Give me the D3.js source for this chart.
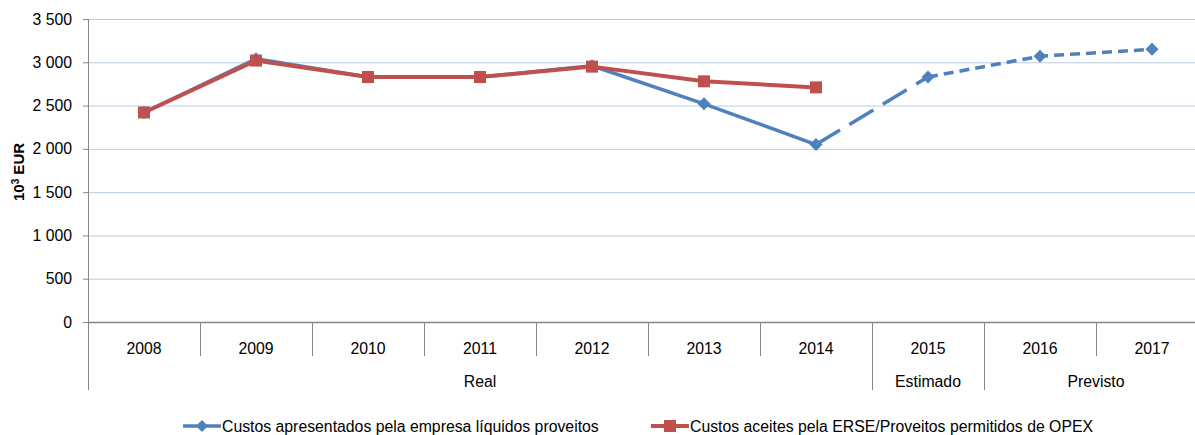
<!DOCTYPE html>
<html>
<head>
<meta charset="utf-8">
<script src="https://cdn.jsdelivr.net/npm/d3@7"></script>
<style>
  html, body { margin: 0; padding: 0; background: #fff; }
  svg { display: block; font-family: "Liberation Sans", Arial, sans-serif; }
</style>
</head>
<body>
<svg id="chart" width="1195" height="435"></svg>
<script>
// ---- Data ----
const years = ["2008","2009","2010","2011","2012","2013","2014","2015","2016","2017"];
const groupLabels = ["Real", "Estimado", "Previsto"];
const groupSizes = [7, 1, 2];
const apresentados = [2420, 3040, 2830, 2830, 2960, 2520, 2050, 2830, 3070, 3150];
const aceites = [2420, 3020, 2830, 2830, 2950, 2780, 2710];
const yTicks = [0, 500, 1000, 1500, 2000, 2500, 3000, 3500];
const seriesNames = ["Custos apresentados pela empresa líquidos proveitos",
                     "Custos aceites pela ERSE/Proveitos  permitidos de OPEX"];

(function () {
// ---- Layout ----
const svg = d3.select("#chart");
const pLeft = 88, pRight = 1208, pTop = 19, pBottom = 322;
const blue = "#4F81BD", red = "#C0504D", axisCol = "#868686", gridCol = "#B9CDE5";
const FONT = '"Liberation Sans", Arial, sans-serif';
const FS = 15.8;

const x = d3.scaleBand().domain(years).range([pLeft, pRight]).paddingInner(0).paddingOuter(0);
const y = d3.scaleLinear().domain([0, 3500]).range([pBottom, pTop]);
const cx = d => x(d) + x.bandwidth() / 2;

const fmt = d3.formatLocale({decimal: ",", thousands: " ", grouping: [3], currency: ["", ""]}).format(",d");

// Gridlines
svg.append("g").attr("transform", `translate(${pLeft},0)`)
  .call(d3.axisLeft(y).tickValues(yTicks.filter(v => v > 0)).tickSize(-(pRight - pLeft)).tickFormat(""))
  .call(g => g.select(".domain").remove())
  .call(g => g.selectAll("line").attr("stroke", gridCol).attr("stroke-width", 1));

// Y axis
svg.append("g").attr("transform", `translate(${pLeft},0)`)
  .call(d3.axisLeft(y).tickValues(yTicks).tickSize(5).tickPadding(11).tickFormat(fmt))
  .call(g => g.select(".domain").remove())
  .call(g => g.selectAll("line").attr("stroke", axisCol))
  .call(g => g.selectAll("text").attr("font-size", FS).attr("fill", "#000").attr("font-family", FONT));
svg.append("line").attr("x1", pLeft + 0.5).attr("x2", pLeft + 0.5).attr("y1", pTop).attr("y2", 390)
  .attr("stroke", axisCol);

// X axis line
svg.append("line").attr("x1", pLeft).attr("x2", pRight).attr("y1", pBottom + 0.5).attr("y2", pBottom + 0.5)
  .attr("stroke", axisCol).attr("stroke-width", 1.3);

// Year labels
svg.append("g").attr("transform", `translate(0,${pBottom})`)
  .call(d3.axisBottom(x).tickSize(0).tickPadding(21))
  .call(g => g.select(".domain").remove())
  .call(g => g.selectAll("text").attr("font-size", FS).attr("fill", "#000").attr("font-family", FONT));

// Group boundaries
const groupStarts = [];
let acc = 0;
groupSizes.forEach(s => { groupStarts.push(acc); acc += s; });
const groupEdgeIdx = new Set(groupStarts.concat([years.length]));

for (let i = 1; i <= years.length; i++) {
  const xp = i < years.length ? x(years[i]) : pRight;
  const isGroup = groupEdgeIdx.has(i);
  svg.append("line").attr("x1", Math.round(xp) + 0.5).attr("x2", Math.round(xp) + 0.5)
    .attr("y1", pBottom).attr("y2", isGroup ? 390 : 356).attr("stroke", axisCol);
}

groupLabels.forEach((lab, gi) => {
  const s = groupStarts[gi], e = s + groupSizes[gi] - 1;
  const mid = (x(years[s]) + x(years[e]) + x.bandwidth()) / 2;
  svg.append("text").attr("x", mid).attr("y", 387).attr("text-anchor", "middle")
    .attr("font-size", FS).attr("fill", "#000").text(lab);
});

// Y-axis title
const yt = svg.append("text").attr("transform", "translate(24,172) rotate(-90)")
  .attr("text-anchor", "middle").attr("font-size", 15).attr("font-weight", "bold").attr("fill", "#000");
yt.append("tspan").text("10");
yt.append("tspan").attr("baseline-shift", "super").attr("font-size", 10).text("3");
yt.append("tspan").text(" EUR");

// ---- Series ----
const line = d3.line().x(d => cx(d.year)).y(d => y(d.v));
const bluePts = apresentados.map((v, i) => ({year: years[i], v}));
const redPts = aceites.map((v, i) => ({year: years[i], v}));

svg.append("path").datum(bluePts.slice(0, 7)).attr("d", line)
  .attr("fill", "none").attr("stroke", blue).attr("stroke-width", 3.5).attr("stroke-linejoin", "round");
svg.append("path").datum(bluePts.slice(6, 8)).attr("d", line)
  .attr("fill", "none").attr("stroke", blue).attr("stroke-width", 3.5).attr("stroke-dasharray", "28,11");
svg.append("path").datum(bluePts.slice(7)).attr("d", line)
  .attr("fill", "none").attr("stroke", blue).attr("stroke-width", 3.5).attr("stroke-dasharray", "10,6");

const diamond = (g, px, py, r) => g.append("path")
  .attr("d", `M${px},${py - r}L${px + r},${py}L${px},${py + r}L${px - r},${py}Z`).attr("fill", blue);
bluePts.forEach(d => diamond(svg, cx(d.year), y(d.v), 6.5));

svg.append("path").datum(redPts).attr("d", line)
  .attr("fill", "none").attr("stroke", red).attr("stroke-width", 4).attr("stroke-linejoin", "round");
svg.selectAll(".sq").data(redPts).enter().append("rect")
  .attr("x", d => cx(d.year) - 6).attr("y", d => y(d.v) - 6)
  .attr("width", 12).attr("height", 12).attr("fill", red);

// ---- Legend ----
const ly = 426;
const lg = svg.append("g");
lg.append("line").attr("x1", 183).attr("x2", 221).attr("y1", ly).attr("y2", ly).attr("stroke", blue).attr("stroke-width", 3.5);
diamond(lg, 202, ly, 6);
lg.append("text").attr("x", 222).attr("y", ly + 5.5).attr("font-size", FS).attr("fill", "#000").text(seriesNames[0]);
lg.append("line").attr("x1", 651).attr("x2", 689).attr("y1", ly).attr("y2", ly).attr("stroke", red).attr("stroke-width", 4);
lg.append("rect").attr("x", 664).attr("y", ly - 6).attr("width", 12).attr("height", 12).attr("fill", red);
lg.append("text").attr("x", 690).attr("y", ly + 5.5).attr("font-size", FS).attr("fill", "#000").text(seriesNames[1]);
})();
</script>
</body>
</html>
